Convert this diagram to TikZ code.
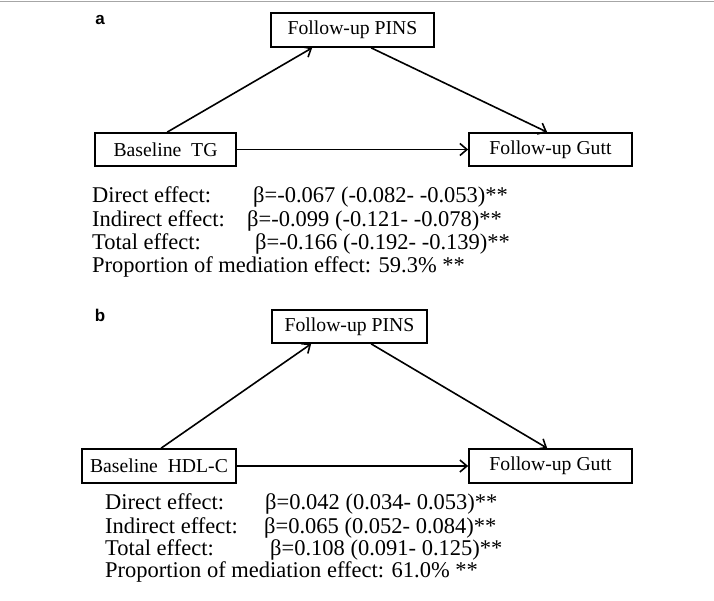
\documentclass[tikz,border=0pt]{standalone}
\usepackage{fontspec}
\setmainfont{Liberation Serif}
\newfontfamily\labelfont{Liberation Sans}
\usetikzlibrary{arrows.meta}
\tikzset{
  boxnode/.style={draw, line width=1.7pt, inner sep=0pt, anchor=center, font=\fontsize{19.7}{22}\selectfont},
  conn/.style={line width=1.6pt, -{Straight Barb[length=7pt,width=12pt,line width=1.6pt]}},
  efftext/.style={inner sep=0pt, anchor=base west, font=\fontsize{22.5}{25}\selectfont},
  panellabel/.style={inner sep=0pt, anchor=center, font=\labelfont\bfseries\fontsize{17}{19}\selectfont}
}
\begin{document}
\begin{tikzpicture}[x=1pt,y=-1pt]
\useasboundingbox (0,0) rectangle (714,601);
\fill[white] (0,0) rectangle (714,601);
\coordinate (tl) at (0,1.5);
\coordinate (tr) at (714,1.5);
\draw[gray!70, line width=1.5pt] (tl) -- (tr);

% Panel a
\node[panellabel] (la) at (100,20) {a};
\node[boxnode, minimum width=163pt, minimum height=34pt] (pinsa) at (352.5,30) {Follow-up PINS};
\node[boxnode, minimum width=141pt, minimum height=33pt] (tg) at (165.5,149.5) {Baseline\ \ TG};
\node[boxnode, minimum width=163pt, minimum height=33pt] (gutta) at (550.5,149.5) {Follow-up Gutt};
\draw[conn] ([xshift=73pt]tg.north west) -- ([xshift=42pt]pinsa.south west);
\draw[conn] ([xshift=101pt]pinsa.south west) -- ([xshift=79pt]gutta.north west);
\draw[conn] (tg.east) -- (gutta.west);

\node[efftext] (a1l) at (92,203) {Direct effect:};
\node[efftext] (a1v) at (253,203) {β=-0.067 (-0.082- -0.053)**};
\node[efftext] (a2l) at (92,227) {Indirect effect:};
\node[efftext] (a2v) at (247,227) {β=-0.099 (-0.121- -0.078)**};
\node[efftext] (a3l) at (92,250) {Total effect:};
\node[efftext] (a3v) at (255,250) {β=-0.166 (-0.192- -0.139)**};
\node[efftext] (a4l) at (92,273) {Proportion of mediation effect: 59.3\% **};

% Panel b
\node[panellabel] (lb) at (100,315) {b};
\node[boxnode, minimum width=155pt, minimum height=33pt] (pinsb) at (349.5,326.5) {Follow-up PINS};
\node[boxnode, minimum width=154pt, minimum height=34pt] (hdl) at (159,466) {Baseline\ \ HDL-C};
\node[boxnode, minimum width=163pt, minimum height=34pt] (guttb) at (550.5,466) {Follow-up Gutt};
\draw[conn] ([xshift=80pt]hdl.north west) -- ([xshift=40pt]pinsb.south west);
\draw[conn] ([xshift=100pt]pinsb.south west) -- ([xshift=79pt]guttb.north west);
\draw[conn] (hdl.east) -- (guttb.west);

\node[efftext] (b1l) at (105,509) {Direct effect:};
\node[efftext] (b1v) at (265,509) {β=0.042 (0.034- 0.053)**};
\node[efftext] (b2l) at (105,533) {Indirect effect:};
\node[efftext] (b2v) at (264,533) {β=0.065 (0.052- 0.084)**};
\node[efftext] (b3l) at (105,555) {Total effect:};
\node[efftext] (b3v) at (270,555) {β=0.108 (0.091- 0.125)**};
\node[efftext] (b4l) at (105,577) {Proportion of mediation effect: 61.0\% **};
\end{tikzpicture}
\end{document}
